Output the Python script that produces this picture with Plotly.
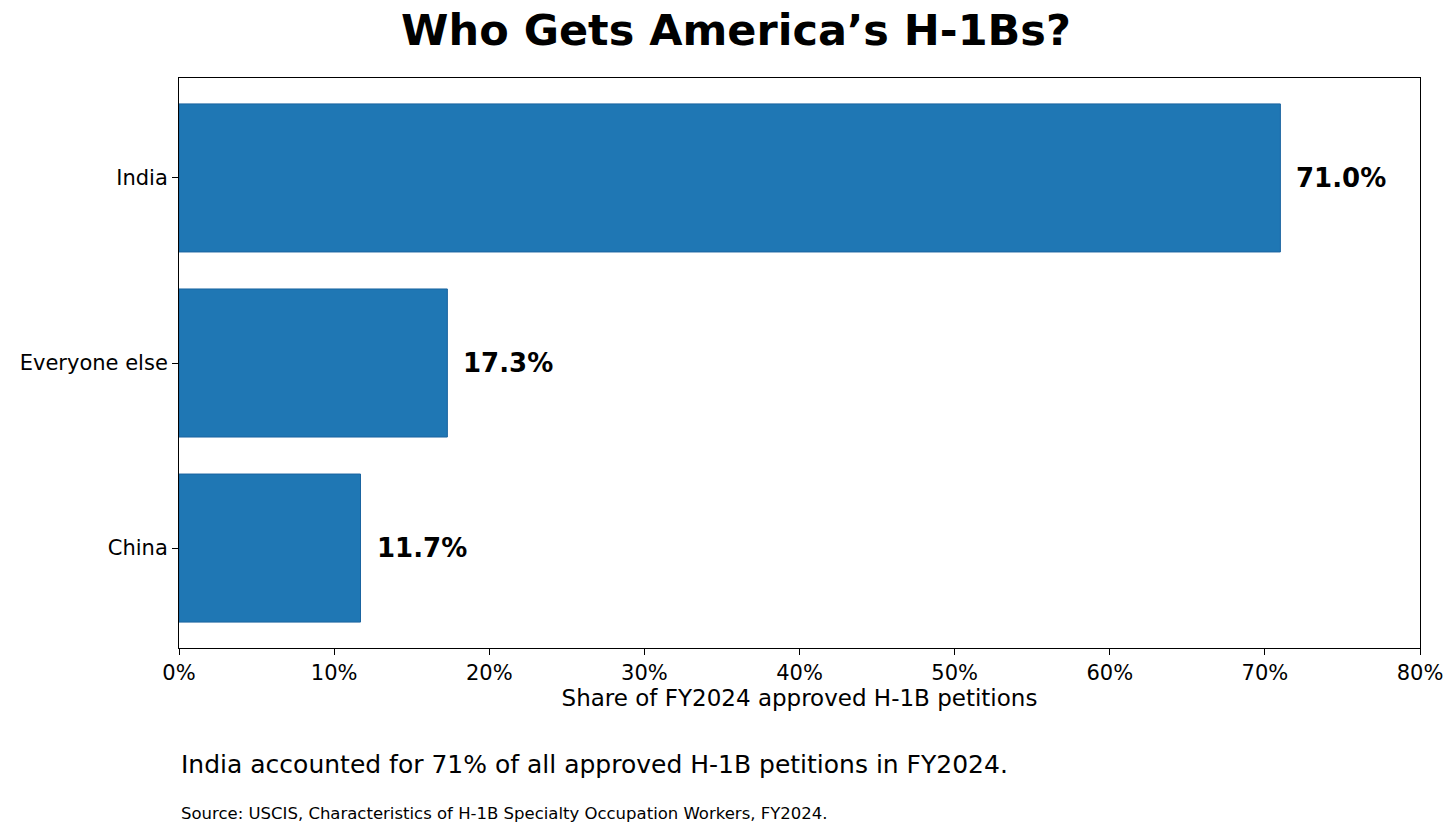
import plotly.graph_objects as go

countries = ["China", "Everyone else", "India"]
shares = [11.7, 17.3, 71.0]
x_ticks = [0, 10, 20, 30, 40, 50, 60, 70, 80]
x_labels = [f"{t}%" for t in x_ticks]

FONT = "DejaVu Sans"

fig = go.Figure(go.Bar(
    y=countries, x=shares, orientation="h", width=0.8,
    marker=dict(color="#1f77b4", line=dict(color="#1a64a0", width=1)),
))

# value labels sit just right of each bar end
labels = [dict(x=v, y=c, text=f"<b>{v:.1f}%</b>", xanchor="left", yanchor="middle",
               xshift=14, showarrow=False, font=dict(size=26, family=FONT))
          for c, v in zip(countries, shares)]

fig.update_layout(
    width=1456, height=834,
    margin=dict(l=167, r=44, t=70, b=194),
    paper_bgcolor="white", plot_bgcolor="white",
    font=dict(family=FONT, color="black", size=21),
    showlegend=False,
    title=dict(text="<b>Who Gets America’s H-1Bs?</b>", x=0.5, xanchor="center",
               y=0.974, yanchor="middle", font=dict(size=43, family=FONT)),
    xaxis=dict(range=[0, 80], tickvals=x_ticks, ticktext=x_labels,
               ticks="outside", ticklen=6, tickcolor="black",
               showline=True, linecolor="black", mirror=True, showgrid=False,
               zeroline=False, tickfont=dict(size=21),
               title=dict(text="Share of FY2024 approved H-1B petitions",
                          font=dict(size=23), standoff=4)),
    yaxis=dict(range=[-0.54, 2.54], ticks="outside", ticklen=6, tickcolor="black",
               showline=True, linecolor="black", mirror=True, showgrid=False,
               tickfont=dict(size=21)),
    annotations=labels + [
        dict(text="India accounted for 71% of all approved H-1B petitions in FY2024.",
             xref="paper", yref="paper", x=0, y=-0.205, xanchor="left", yanchor="middle",
             showarrow=False, font=dict(size=25, family=FONT)),
        dict(text="Source: USCIS, Characteristics of H-1B Specialty Occupation Workers, FY2024.",
             xref="paper", yref="paper", x=0, y=-0.29, xanchor="left", yanchor="middle",
             showarrow=False, font=dict(size=16.5, family=FONT)),
    ],
)

fig.write_html("out.html")
